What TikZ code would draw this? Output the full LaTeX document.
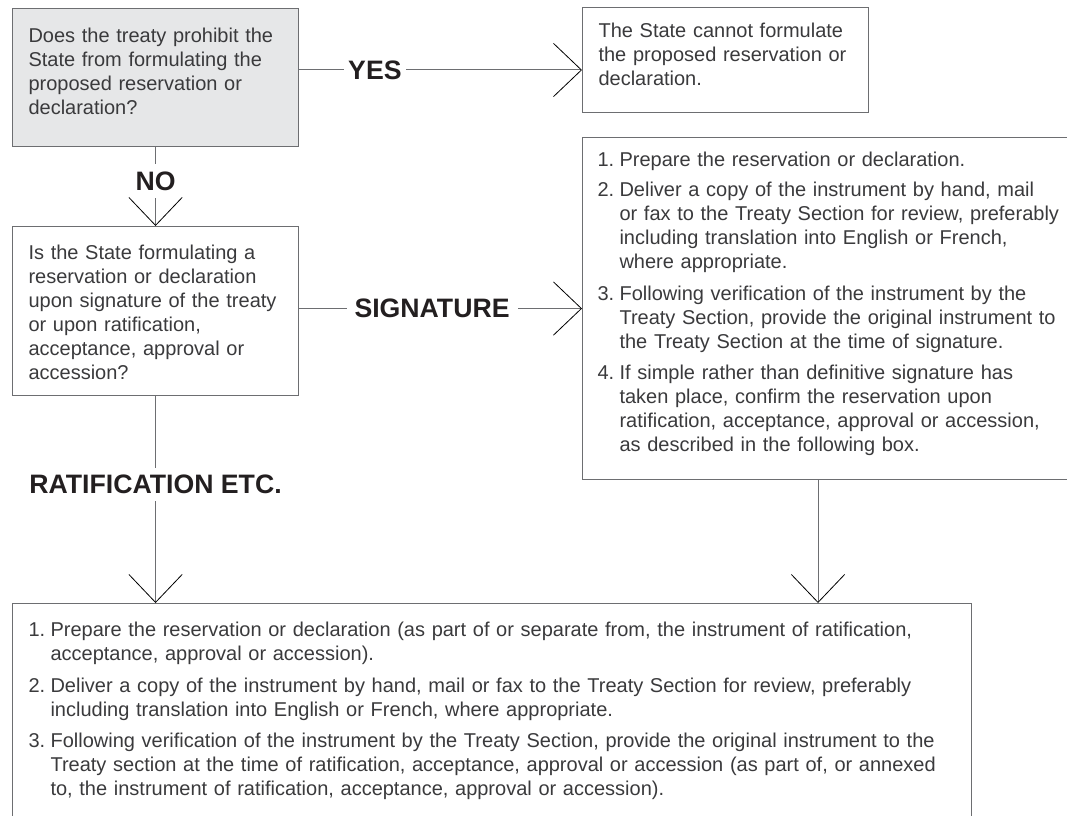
\documentclass[tikz,border=0pt]{standalone}
\usepackage{fontspec}
\setmainfont{Liberation Sans}
\usepackage{xcolor}
\usetikzlibrary{arrows.meta, positioning, calc}

\definecolor{inkgray}{HTML}{3A3A3C}
\definecolor{linegray}{HTML}{6D6E71}
\definecolor{qfill}{HTML}{E6E7E8}
\definecolor{labelink}{HTML}{231F20}

% numbered step with hanging indent
\newcommand{\numpoint}[2]{\noindent\makebox[16.5pt][l]{\strut#1}\parbox[t]{\dimexpr\linewidth-16.5pt\relax}{#2\strut}\par\vspace{4.5pt}}

\begin{document}
\begin{tikzpicture}[
    x=0.75pt, y=-0.75pt,
    every node/.style={font=\fontsize{15}{18}\selectfont, text=inkgray},
    box/.style={
        draw=linegray,
        line width=0.8pt,
        anchor=north west,
        align=left,
        inner xsep=12pt,
        inner ysep=0pt,
        text width=190.5pt,
        text height=25pt
    },
    query/.style={box, fill=qfill},
    lbl/.style={
        font=\fontsize{20}{24}\selectfont\bfseries,
        text=labelink,
        fill=white,
        inner xsep=3pt,
        inner ysep=5.5pt
    },
    link/.style={draw=linegray, line width=0.75pt,
        -{Straight Barb[length=21pt, width=40pt, line width=0.6pt, color=black]}}
]
\useasboundingbox (0,0) rectangle (1067,816);

\node[query, text height=25.5pt, text depth=78pt] (ask) at (12,8)
    {Does the treaty prohibit the\\State from formulating the\\proposed reservation or\\declaration?};
\node[box, text height=22.7pt, text depth=56pt] (cannot) at (582,7)
    {The State cannot formulate\\the proposed reservation or\\declaration.};
\node[box, text depth=101.75pt] (when) at (12,226)
    {Is the State formulating a\\reservation or declaration\\upon signature of the treaty\\or upon ratification,\\acceptance, approval or\\accession?};

\node[box, text height=22pt, text depth=234.5pt, inner xsep=11.25pt, text width=351pt] (sigsteps) at (582,137) {%
    \numpoint{1.}{Prepare the reservation or declaration.}
    \numpoint{2.}{Deliver a copy of the instrument by hand, mail\\or fax to the Treaty Section for review, preferably\\including translation into English or French,\\where appropriate.}
    \numpoint{3.}{Following verification of the instrument by the\\Treaty Section, provide the original instrument to\\the Treaty Section at the time of signature.}
    \numpoint{4.}{If simple rather than definitive signature has\\taken place, confirm the reservation upon\\ratification, acceptance, approval or accession,\\as described in the following box.}};

\node[box, text depth=147.5pt, text width=695.25pt] (ratsteps) at (12,603) {%
    \numpoint{1.}{Prepare the reservation or declaration (as part of or separate from, the instrument of ratification,\\acceptance, approval or accession).}
    \numpoint{2.}{Deliver a copy of the instrument by hand, mail or fax to the Treaty Section for review, preferably\\including translation into English or French, where appropriate.}
    \numpoint{3.}{Following verification of the instrument by the Treaty Section, provide the original instrument to the\\Treaty section at the time of ratification, acceptance, approval or accession (as part of, or annexed\\to, the instrument of ratification, acceptance, approval or accession).}};

\coordinate (yesrow) at (0,70);
\coordinate (drop) at (818,0);

\draw[link] (ask.east |- yesrow) -- node[lbl, pos=0.268] {YES} (cannot.west |- yesrow);
\draw[link] (ask.south) -- node[lbl, pos=0.43] {NO} (when.north);
\draw[link] (when.east |- sigsteps.west) -- node[lbl, pos=0.47, inner xsep=6pt] {SIGNATURE} (sigsteps.west);
\draw[link] (when.south) -- node[lbl, pos=0.428] {RATIFICATION ETC.} (when.south |- ratsteps.north);
\draw[link] (sigsteps.south -| drop) -- (ratsteps.north -| drop);

\end{tikzpicture}
\end{document}
